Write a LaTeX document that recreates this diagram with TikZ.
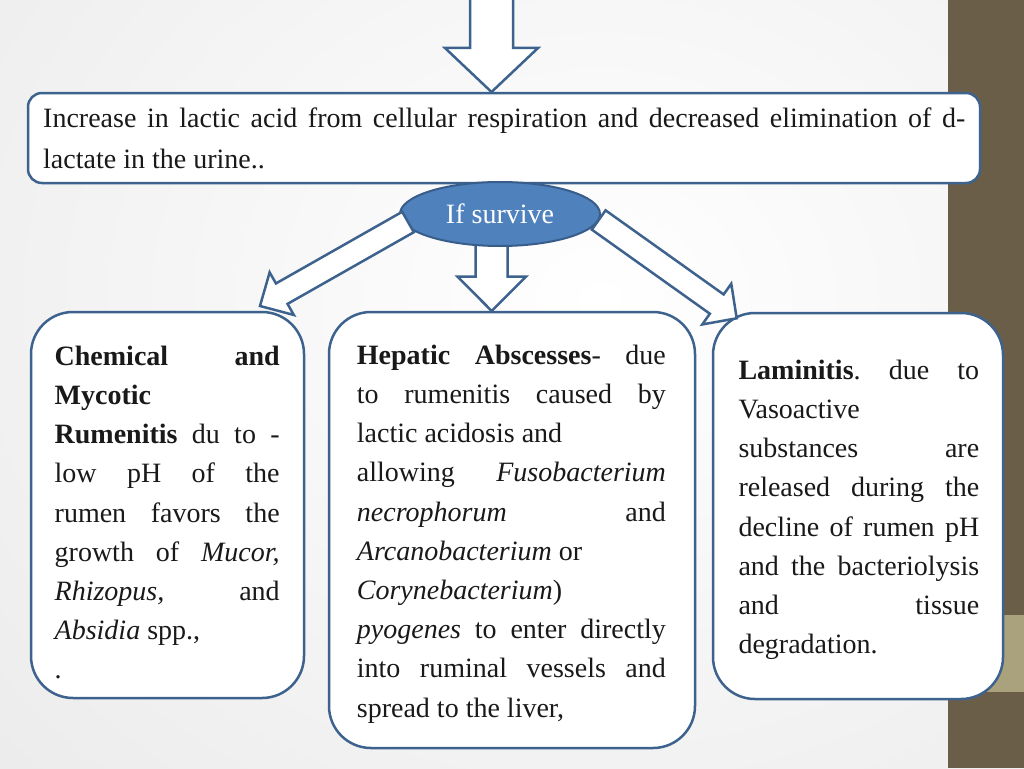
\documentclass[tikz,border=0pt]{standalone}
\usepackage{fontspec}
\setmainfont{Liberation Serif}
\usetikzlibrary{calc,shapes.geometric}
\frenchspacing
\definecolor{bord}{RGB}{62,98,142}
\definecolor{ellfill}{RGB}{79,129,189}
\definecolor{ellbord}{RGB}{56,93,138}
\definecolor{stripBrown}{RGB}{107,94,73}
\definecolor{stripTan}{RGB}{169,162,124}
\definecolor{txt}{RGB}{25,25,25}
\tikzset{
  boxshape/.style={rectangle, draw=bord, line width=2.5pt, fill=white, inner sep=0pt},
  arrowline/.style={draw=bord, line width=2.5pt, fill=white, line join=miter},
  bodytext/.style={anchor=north west, inner sep=0pt, align=justify, text=txt,
    font={\fontsize{28}{39.2}\selectfont\tolerance=10000\hyphenpenalty=10000\frenchspacing}},
}
% block arrow: #1 start, #2 tip, #3 shaft half width, #4 head half width, #5 head length
\newcommand\blockarrow[5]{%
  \path ($(#2)!#5!(#1)$) coordinate (neck);
  \draw[arrowline] ($(#1)!#3!90:(#2)$) -- ($(neck)!#3!90:(#2)$) -- ($(neck)!#4!90:(#2)$)
    -- (#2) -- ($(neck)!#4!-90:(#2)$) -- ($(neck)!#3!-90:(#2)$) -- ($(#1)!#3!-90:(#2)$) -- cycle;
}
\begin{document}
\begin{tikzpicture}[x=1pt,y=-1pt]
\useasboundingbox (0,0) rectangle (1024,768);
% background
\shade[inner color=white, outer color=black!11] (-600,-700) rectangle (1800,1300);
\fill[stripBrown] (948,0) rectangle (1024,768);
\fill[stripTan] (948,615) rectangle (1024,692);

% top arrow and box
\coordinate (t0) at (491.5,-6);
\coordinate (t1) at (491.5,92);
\blockarrow{t0}{t1}{21.5pt}{46.5pt}{44pt}
\node[boxshape, rounded corners=14pt, minimum width=952pt, minimum height=90pt] (topbox) at (504,138) {};
\node[bodytext, text width=922pt, font={\fontsize{28}{41}\selectfont\tolerance=10000\hyphenpenalty=10000}] (toptext) at (43,99)
  {\strut Increase in lactic acid from cellular respiration and decreased elimination of d-\linebreak lactate in the urine..};

% lower boxes
\node[boxshape, rounded corners=42pt, minimum width=273pt, minimum height=386pt] (leftbox) at (167.5,505) {};
\node[boxshape, rounded corners=42pt, minimum width=366pt, minimum height=436pt] (midbox) at (512,530) {};
\node[boxshape, rounded corners=42pt, minimum width=290pt, minimum height=386pt] (rightbox) at (858,506) {};

\node[bodytext, text width=225pt] (lefttext) at (54.5,337.6)
  {\strut\textbf{Chemical and}\linebreak
   \textbf{Mycotic}\\
   \textbf{Rumenitis} du to -\linebreak
   low pH of the\linebreak
   rumen favors the\linebreak
   growth of \textit{Mucor,}\linebreak
   \textit{Rhizopus,} and\linebreak
   \textit{Absidia} spp.,\\
   .};

\node[bodytext, text width=309pt] (midtext) at (356.7,336.6)
  {\strut\textbf{Hepatic Abscesses}- due\linebreak
   to rumenitis caused by\linebreak
   lactic acidosis and\\
   allowing \textit{Fusobacterium}\linebreak
   \textit{necrophorum} and\linebreak
   \textit{Arcanobacterium} or\\
   \textit{Corynebacterium})\\
   \textit{pyogenes} to enter directly\linebreak
   into ruminal vessels and\linebreak
   spread to the liver,};

\node[bodytext, text width=240.7pt] (righttext) at (738.3,351.6)
  {\strut\textbf{Laminitis}. due to\linebreak
   Vasoactive\\
   substances are\linebreak
   released during the\linebreak
   decline of rumen pH\linebreak
   and the bacteriolysis\linebreak
   and tissue\linebreak
   degradation.};

% middle arrow, ellipse, side arrows
\coordinate (m0) at (491.7,238);
\coordinate (m1) at (491.7,311);
\blockarrow{m0}{m1}{16pt}{34.3pt}{34.5pt}
\node[ellipse, draw=ellbord, fill=ellfill, line width=2pt, minimum width=200pt, minimum height=64pt,
  inner sep=0pt, text=white, font=\fontsize{28}{34}\selectfont] (surv) at (500,214) {If survive};

\coordinate (l0) at (408,222);
\coordinate (l1) at (260,306);
\blockarrow{l0}{l1}{11.75pt}{24.5pt}{25pt}
\coordinate (r0) at (598.7,220);
\coordinate (r1) at (736.7,318.3);
\blockarrow{r0}{r1}{11.85pt}{25pt}{24.5pt}
\end{tikzpicture}
\end{document}
